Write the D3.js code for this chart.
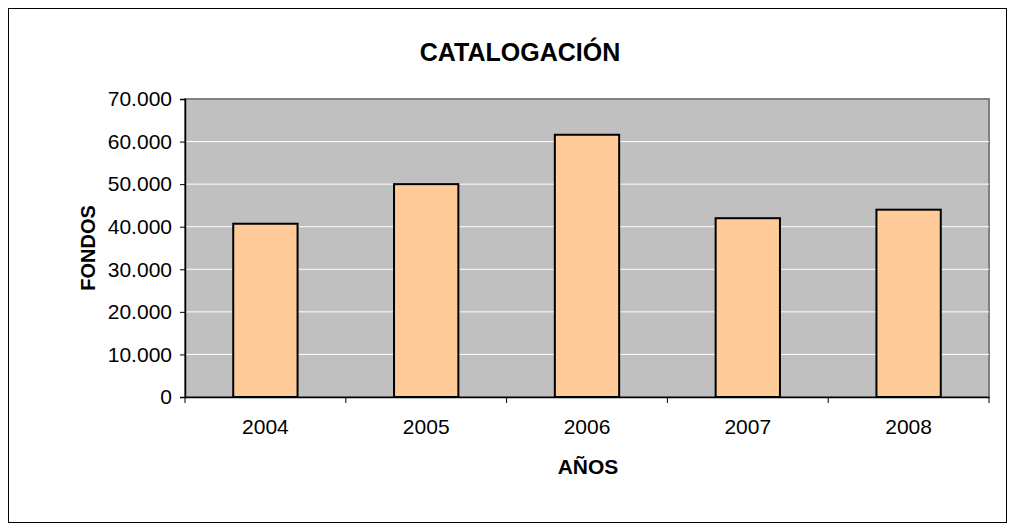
<!DOCTYPE html>
<html><head><meta charset="utf-8">
<script src="https://cdn.jsdelivr.net/npm/d3@7"></script>
<style>body{margin:0;background:#fff}svg{display:block;font-family:"Liberation Sans",Arial,sans-serif}</style>
</head><body><svg id="c" width="1016" height="532"></svg>
<script>
const years = ["2004","2005","2006","2007","2008"];
const fondos = [40700, 50000, 61600, 42000, 44000];
const yTicks = [0,10000,20000,30000,40000,50000,60000,70000];
const title = "CATALOGACIÓN", xTitle = "AÑOS", yTitle = "FONDOS";

const svg = d3.select("#c");
svg.append("rect").attr("x",8.5).attr("y",8.5).attr("width",998).attr("height",514)
  .attr("fill","#fff").attr("stroke","#000").attr("stroke-width",1);

const L=185,R=989,T=99,B=397;
const x = d3.scaleBand().domain(years).range([L,R]).paddingInner(0.6).paddingOuter(0.3);
const xb = d3.scaleBand().domain(years).range([L,R]);
const y = d3.scaleLinear().domain([0,70000]).range([B,T]);

svg.append("rect").attr("x",L).attr("y",T).attr("width",R-L).attr("height",B-T)
  .attr("fill","#C0C0C0").attr("stroke","#808080").attr("stroke-width",2);

svg.append("g").selectAll("line").data(yTicks.filter(d=>d>0&&d<70000)).join("line")
  .attr("x1",L).attr("x2",R).attr("y1",d=>y(d)).attr("y2",d=>y(d))
  .attr("stroke","#fff").attr("stroke-width",1);

svg.append("g").selectAll("rect").data(years).join("rect")
  .attr("x",d=>x(d)).attr("width",x.bandwidth())
  .attr("y",(d,i)=>y(fondos[i])).attr("height",(d,i)=>B-y(fondos[i]))
  .attr("fill","#FFCC99").attr("stroke","#000").attr("stroke-width",2);

const fmt = d3.formatLocale({decimal:",",thousands:".",grouping:[3]}).format(",d");
const ya = svg.append("g").attr("transform",`translate(${L},0)`)
  .call(d3.axisLeft(y).tickValues(yTicks).tickFormat(fmt).tickSize(5).tickPadding(8));
ya.select(".domain").attr("stroke","#000").attr("stroke-width",1.5);
ya.selectAll(".tick line").attr("stroke","#000");
ya.selectAll("text").attr("font-size",21).attr("fill","#000").attr("font-family",null);

const xa = svg.append("g").attr("transform",`translate(0,${B})`)
  .call(d3.axisBottom(xb).tickSize(0).tickPadding(22));
xa.select(".domain").attr("stroke","#000").attr("stroke-width",1.5);
xa.selectAll("text").attr("font-size",21).attr("fill","#000").attr("font-family",null);
svg.append("g").selectAll("line").data(years.concat(["end"])).join("line")
  .attr("x1",d=>d==="end"?R:xb(d)).attr("x2",d=>d==="end"?R:xb(d))
  .attr("y1",B).attr("y2",B+6).attr("stroke","#000");

svg.append("text").attr("x",520).attr("y",61).attr("text-anchor","middle")
  .attr("font-size",25).attr("font-weight","bold").text(title);
svg.append("text").attr("x",588).attr("y",474).attr("text-anchor","middle")
  .attr("font-size",21).attr("font-weight","bold").text(xTitle);
svg.append("text").attr("transform","translate(95,248) rotate(-90)").attr("text-anchor","middle")
  .attr("font-size",20).attr("font-weight","bold").text(yTitle);
</script></body></html>
